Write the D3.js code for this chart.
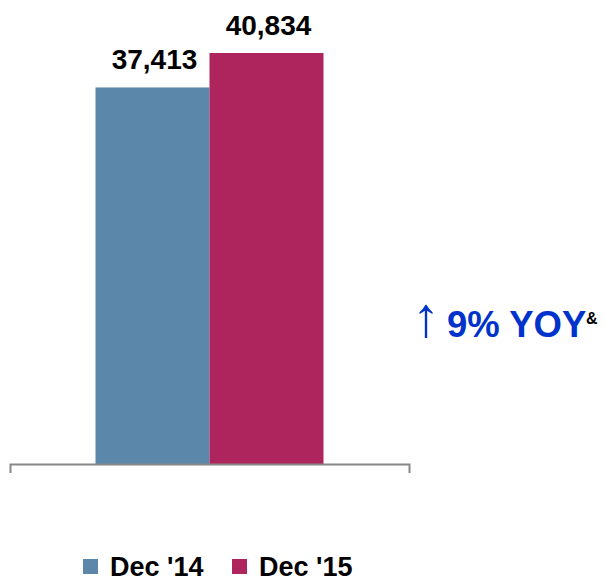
<!DOCTYPE html>
<html>
<head>
<meta charset="utf-8">
<script src="https://d3js.org/d3.v7.min.js"></script>
<style>
  html, body { margin: 0; padding: 0; background: #fff; }
  svg { display: block; font-family: "Liberation Sans", Arial, sans-serif; }
</style>
</head>
<body>
<svg id="chart" width="605" height="580"></svg>
<script>
// Year-end totals, one group with two periods
const categories = ["Total"];
const series = ["Dec '14", "Dec '15"];
const values = [37413, 40834];
const colors = ["#5B87AB", "#AE255D"];
const growthLabel = "9% YOY";
const growthNote = "&";

const svg = d3.select("#chart");
const width = 605, height = 580;
const margin = { left: 10, right: 196, top: 0, bottom: 116 };
const baseY = height - margin.bottom;

const x0 = d3.scaleBand()
  .domain(categories)
  .range([margin.left, width - margin.right])
  .paddingOuter(0.375)
  .paddingInner(0);

const x1 = d3.scaleBand()
  .domain(series)
  .range([0, x0.bandwidth()]);

const y = d3.scaleLinear()
  .domain([0, 46100])
  .range([baseY, 0]);

const fmt = d3.format(",");

const data = series.map((s, i) => ({ cat: categories[0], series: s, value: values[i], color: colors[i] }));

// Bars
const g = svg.append("g");
g.selectAll("rect.bar")
  .data(data)
  .join("rect")
  .attr("class", "bar")
  .attr("x", d => x0(d.cat) + x1(d.series))
  .attr("y", d => y(d.value))
  .attr("width", x1.bandwidth())
  .attr("height", d => y(0) - y(d.value))
  .attr("fill", d => d.color);

// Value labels
g.selectAll("text.value")
  .data(data)
  .join("text")
  .attr("class", "value")
  .attr("x", d => x0(d.cat) + x1(d.series) + x1.bandwidth() / 2 + 2)
  .attr("y", d => y(d.value) - 18)
  .attr("text-anchor", "middle")
  .attr("font-size", 28)
  .attr("font-weight", "bold")
  .attr("fill", "#000")
  .text(d => fmt(d.value));

// Category axis: baseline with end ticks, no labels
const axis = d3.axisBottom(x0).tickValues([]).tickSizeOuter(9);
const axisG = svg.append("g")
  .attr("transform", `translate(0,${baseY})`)
  .call(axis);
axisG.select(".domain")
  .attr("stroke", "#888")
  .attr("stroke-width", 2);

// Growth annotation
const ann = svg.append("g");
ann.append("text")
  .attr("x", 412)
  .attr("y", 336)
  .attr("font-size", 56)
  .attr("fill", "#0033CC")
  .text("\u2191");
ann.append("text")
  .attr("x", 447)
  .attr("y", 337)
  .attr("font-size", 36.5)
  .attr("font-weight", "bold")
  .attr("fill", "#0033CC")
  .text(growthLabel);
ann.append("text")
  .attr("x", 586)
  .attr("y", 324)
  .attr("font-size", 16)
  .attr("font-weight", "bold")
  .attr("fill", "#000")
  .text(growthNote);

// Legend
const legendX = [83, 232];
const legend = svg.append("g");
const items = legend.selectAll("g")
  .data(data)
  .join("g")
  .attr("transform", (d, i) => `translate(${legendX[i]},559)`);
items.append("rect")
  .attr("width", 15)
  .attr("height", 15)
  .attr("fill", d => d.color);
items.append("text")
  .attr("x", 27)
  .attr("y", 17)
  .attr("font-size", 27)
  .attr("font-weight", "bold")
  .attr("fill", "#000")
  .text(d => d.series);
</script>
</body>
</html>
